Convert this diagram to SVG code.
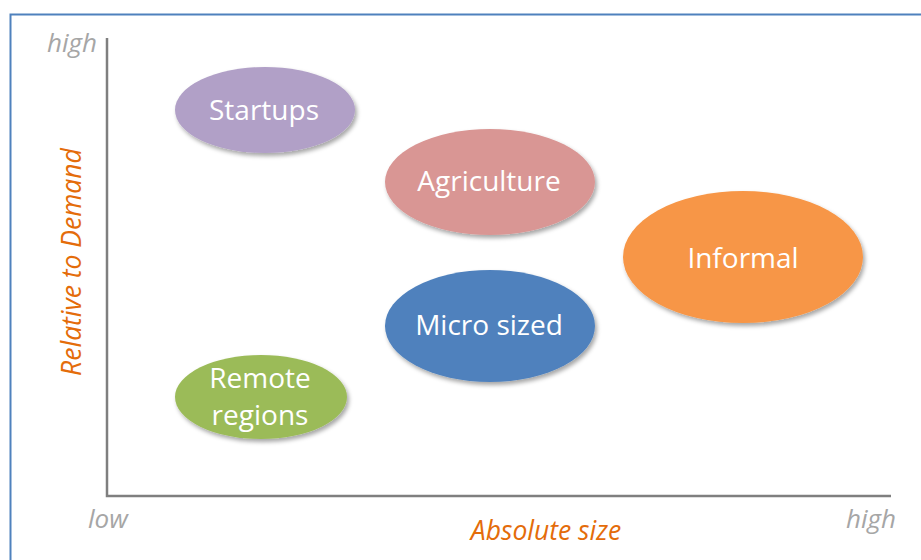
<svg xmlns="http://www.w3.org/2000/svg" width="921" height="560" viewBox="0 0 921 560">
  <defs>
    <filter id="sh" x="-10%" y="-10%" width="125%" height="130%">
      <feDropShadow dx="2" dy="3" stdDeviation="2" flood-color="#000" flood-opacity="0.35"/>
    </filter>
  </defs>
  <style>
    .frame { fill: #ffffff; stroke: #4f81bd; stroke-width: 2; }
    .axis { fill: none; stroke: #7f7f7f; stroke-width: 2.5; }
    .tick { font-family: "Open Sans", "Liberation Sans", sans-serif; font-style: italic; font-size: 26px; fill: #a6a6a6; }
    .title { font-family: "Open Sans", "Liberation Sans", sans-serif; font-style: italic; font-size: 26.5px; fill: #e46c0a; }
    .lbl { font-family: "Open Sans", "Liberation Sans", sans-serif; font-size: 28px; fill: #ffffff; text-anchor: middle; }
    .node ellipse { filter: url(#sh); }
  </style>
  <rect width="921" height="560" fill="#ffffff"/>
  <rect class="frame" x="10.5" y="14.5" width="930" height="570"/>

  <g id="axes">
    <path class="axis" d="M107,38 V496 H891"/>
    <text class="tick" x="47" y="52">high</text>
    <text class="tick" x="88" y="528">low</text>
    <text class="tick" x="846" y="528">high</text>
    <text class="title" x="546" y="540" text-anchor="middle">Absolute size</text>
    <text class="title" transform="translate(81,262) rotate(-90)" text-anchor="middle">Relative to Demand</text>
  </g>

  <g id="connectors"></g>

  <g id="startups" class="node">
    <ellipse cx="265" cy="110" rx="90" ry="43" fill="#b1a0c7"/>
    <text class="lbl" x="264" y="120">Startups</text>
  </g>
  <g id="agriculture" class="node">
    <ellipse cx="490" cy="182" rx="105" ry="53" fill="#d99694"/>
    <text class="lbl" x="489" y="191">Agriculture</text>
  </g>
  <g id="informal" class="node">
    <ellipse cx="743" cy="257" rx="120" ry="66" fill="#f79646"/>
    <text class="lbl" x="743" y="268">Informal</text>
  </g>
  <g id="micro" class="node">
    <ellipse cx="490" cy="326" rx="105" ry="56" fill="#4f81bd"/>
    <text class="lbl" x="489" y="335">Micro sized</text>
  </g>
  <g id="remote" class="node">
    <ellipse cx="261" cy="397" rx="86" ry="42" fill="#9bbb59"/>
    <text class="lbl" x="260" y="388">Remote</text>
    <text class="lbl" x="260" y="425">regions</text>
  </g>
</svg>
